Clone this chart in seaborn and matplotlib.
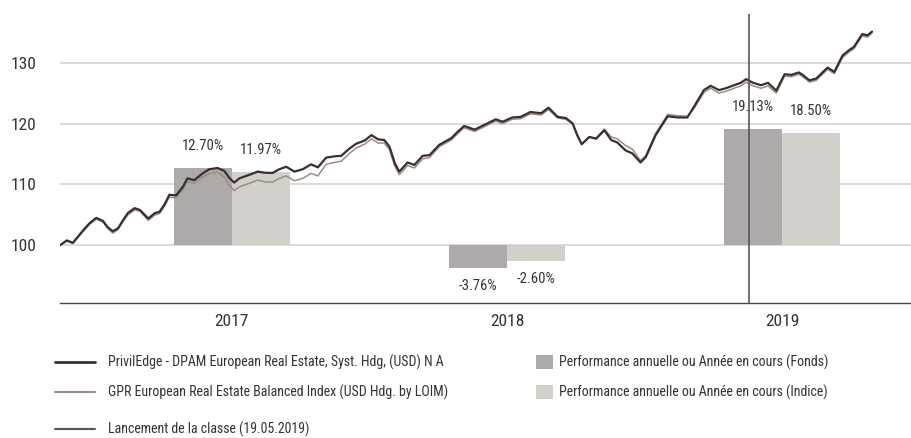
import pandas as pd
import seaborn as sns
import matplotlib.pyplot as plt
import matplotlib.dates as mdates
from matplotlib import font_manager
from matplotlib.lines import Line2D
from matplotlib.patches import Patch

# Données (base 100)
dates = [
    '2016-11-16', '2016-11-25', '2016-12-03', '2016-12-17', '2016-12-25', '2017-01-03',
    '2017-01-12', '2017-01-18', '2017-01-25', '2017-02-01', '2017-02-07', '2017-02-14',
    '2017-02-23', '2017-03-02', '2017-03-13', '2017-03-22', '2017-03-28', '2017-04-04',
    '2017-04-10', '2017-04-19', '2017-04-28', '2017-05-04', '2017-05-13', '2017-05-24',
    '2017-06-02', '2017-06-13', '2017-06-22', '2017-06-29', '2017-07-05', '2017-07-12',
    '2017-07-21', '2017-07-30', '2017-08-05', '2017-08-16', '2017-08-25', '2017-09-03',
    '2017-09-12', '2017-09-23', '2017-10-04', '2017-10-15', '2017-10-24', '2017-11-04',
    '2017-11-14', '2017-11-24', '2017-12-05', '2017-12-14', '2017-12-25', '2018-01-03',
    '2018-01-12', '2018-01-20', '2018-01-27', '2018-02-03', '2018-02-09', '2018-02-20',
    '2018-03-01', '2018-03-12', '2018-03-21', '2018-04-03', '2018-04-19', '2018-04-27',
    '2018-05-06', '2018-05-20', '2018-06-02', '2018-06-17', '2018-06-26', '2018-07-09',
    '2018-07-20', '2018-08-02', '2018-08-16', '2018-08-26', '2018-09-07', '2018-09-18',
    '2018-09-27', '2018-10-03', '2018-10-09', '2018-10-19', '2018-10-28', '2018-11-08',
    '2018-11-17', '2018-11-25', '2018-12-06', '2018-12-15', '2018-12-26', '2019-01-02',
    '2019-01-15', '2019-01-31', '2019-02-13', '2019-02-26', '2019-03-07', '2019-03-20',
    '2019-03-29', '2019-04-09', '2019-04-18', '2019-04-29', '2019-05-08', '2019-05-15',
    '2019-05-24', '2019-06-04', '2019-06-13', '2019-06-24', '2019-07-05', '2019-07-14',
    '2019-07-24', '2019-07-29', '2019-08-07', '2019-08-16', '2019-08-31', '2019-09-09',
    '2019-09-20', '2019-09-29', '2019-10-05', '2019-10-16', '2019-10-23', '2019-10-29',
]
fonds = [
    100.0, 100.8, 100.4, 102.5, 103.6, 104.5, 104.0, 103.0, 102.3, 102.8, 104.0, 105.3,
    106.1, 105.8, 104.4, 105.3, 105.5, 106.8, 108.3, 108.2, 109.6, 111.0, 110.7, 111.8,
    112.5, 112.7, 112.2, 111.0, 110.3, 111.0, 111.4, 111.8, 112.1, 111.9, 111.9, 112.5,
    112.9, 112.1, 112.5, 113.3, 112.8, 114.4, 114.6, 114.7, 115.9, 116.7, 117.2, 118.1,
    117.4, 117.3, 116.2, 113.5, 112.1, 113.6, 113.2, 114.7, 114.8, 116.5, 117.6, 118.6,
    119.6, 119.0, 119.8, 120.7, 120.3, 121.0, 121.1, 121.9, 121.7, 122.6, 121.1, 120.9,
    120.0, 118.1, 116.6, 117.8, 117.5, 118.9, 117.3, 116.9, 115.6, 115.1, 113.6, 114.5,
    118.1, 121.2, 121.0, 121.0, 122.8, 125.5, 126.2, 125.5, 125.8, 126.3, 126.7, 127.3,
    126.7, 126.3, 126.7, 125.4, 128.1, 128.0, 128.4, 128.0, 127.1, 127.4, 129.2, 128.5,
    131.2, 132.1, 132.6, 134.7, 134.5, 135.1,
]
indice = [
    100.0, 100.7, 100.3, 102.3, 103.4, 104.3, 103.8, 102.8, 102.0, 102.6, 103.8, 105.0,
    105.8, 105.6, 104.1, 105.0, 105.2, 106.5, 107.9, 107.8, 109.2, 110.5, 110.2, 111.2,
    111.8, 112.0, 111.2, 109.8, 109.0, 109.6, 110.0, 110.4, 110.7, 110.4, 110.4, 111.0,
    111.4, 110.6, 111.0, 111.8, 111.4, 113.3, 113.6, 113.8, 115.1, 116.0, 116.6, 117.5,
    116.8, 116.8, 115.7, 113.0, 111.6, 113.1, 112.7, 114.2, 114.4, 116.2, 117.3, 118.3,
    119.3, 118.7, 119.5, 120.4, 120.0, 120.7, 120.8, 121.6, 121.4, 122.3, 120.9, 120.7,
    119.9, 118.0, 116.6, 117.8, 117.6, 119.1, 117.8, 117.5, 116.4, 115.8, 113.9, 114.8,
    118.4, 121.5, 121.3, 121.2, 122.5, 125.1, 125.8, 125.0, 125.3, 125.8, 126.2, 126.8,
    126.2, 125.8, 126.2, 125.0, 127.8, 127.7, 128.1, 127.7, 126.8, 127.1, 128.9, 128.2,
    130.9, 131.8, 132.3, 134.4, 134.2, 134.9,
]

annees = [2017, 2018, 2019]
perf_fonds = [12.70, -3.76, 19.13]
perf_indice = [11.97, -2.60, 18.50]
lancement = '2019-05-19'

nom_fonds = 'PrivilEdge - DPAM European Real Estate, Syst. Hdg, (USD) N A'
nom_indice = 'GPR European Real Estate Balanced Index (USD Hdg. by LOIM)'
nom_lancement = 'Lancement de la classe (19.05.2019)'
nom_bar_fonds = 'Performance annuelle ou Année en cours (Fonds)'
nom_bar_indice = 'Performance annuelle ou Année en cours (Indice)'

c_fonds = '#3a2f2f'
c_indice = '#9c8c84'
c_bar_fonds = '#aeaaa9'
c_bar_indice = '#d3cfcb'
c_texte = '#333333'

# police étroite si dispo (le graphique d'origine est en Helvetica Condensed)
dispo = {f.name for f in font_manager.fontManager.ttflist}
choix = ['Roboto Condensed', 'Archivo Narrow', 'PT Sans Narrow', 'Liberation Sans Narrow', 'Liberation Sans']
police = next((p for p in choix if p in dispo), 'DejaVu Sans')
etroite = police != 'Liberation Sans' and police != 'DejaVu Sans'
k = 1.0 if etroite else 0.8

sns.set_style('white')
plt.rcParams['font.family'] = [police, 'DejaVu Sans']

df = pd.DataFrame({'date': pd.to_datetime(dates), 'fonds': fonds, 'indice': indice})

fig = plt.figure(figsize=(9.12, 4.38), dpi=100)
ax = fig.add_axes([0.0658, 0.309, 0.9342, 0.659])

# barres de performance annuelle (base 100)
larg = 77
for a, pf, pi in zip(annees, perf_fonds, perf_indice):
    mid = pd.Timestamp(f'{a}-07-02')
    xf = mid - pd.Timedelta(days=larg / 2)
    xi = mid + pd.Timedelta(days=larg / 2)
    ax.bar(xf, pf, width=larg, bottom=100, color=c_bar_fonds, linewidth=0, zorder=2)
    ax.bar(xi, pi, width=larg, bottom=100, color=c_bar_indice, linewidth=0, zorder=2)
    for x, v in [(xf, pf), (xi, pi)]:
        dy = 22 if v > 0 else -18
        ax.annotate(f'{v:.2f}%', xy=(x, 100 + v), xytext=(0, dy), textcoords='offset pixels',
                    ha='center', va='center', fontsize=10.5 * k, color=c_texte, zorder=5)

sns.lineplot(data=df, x='date', y='indice', color=c_indice, linewidth=1.1, ax=ax, zorder=3)
sns.lineplot(data=df, x='date', y='fonds', color=c_fonds, linewidth=1.6, ax=ax, zorder=4)
ax.axvline(pd.Timestamp(lancement), color='#555555', linewidth=1.2, zorder=6)

ax.set_xlim(pd.Timestamp('2016-11-16'), pd.Timestamp('2019-12-21'))
ax.set_ylim(90.57, 138.0)
ax.set_yticks([100, 110, 120, 130])
ax.yaxis.grid(True, color='#d4d4d4', linewidth=1.2, zorder=0)
ax.set_axisbelow(True)
ax.tick_params(axis='y', length=0, pad=17, labelsize=12.5 * k, labelcolor=c_texte)

ax.xaxis.set_major_locator(mdates.YearLocator())
ax.xaxis.set_major_formatter(plt.NullFormatter())
ax.xaxis.set_minor_locator(mdates.MonthLocator(bymonth=7, bymonthday=2))
ax.xaxis.set_minor_formatter(mdates.DateFormatter('%Y'))
ax.tick_params(axis='x', which='major', length=6, width=1, color='#4a4a3c', direction='out')
ax.tick_params(axis='x', which='minor', length=0, pad=8, labelsize=12.5 * k, labelcolor=c_texte)
ax.set_xlabel('')
ax.set_ylabel('')
for s in ['top', 'left', 'right']:
    ax.spines[s].set_visible(False)
ax.spines['bottom'].set_color('#4a4a3c')
ax.spines['bottom'].set_linewidth(1)

# légendes
prop = {'size': 10 * k}
leg_kw = dict(frameon=False, borderpad=0, borderaxespad=0, prop=prop,
              bbox_transform=fig.transFigure, loc='upper left')
h_lignes = [Line2D([], [], color=c_fonds, linewidth=2), Line2D([], [], color=c_indice, linewidth=1.5)]
l1 = fig.legend(h_lignes, [nom_fonds, nom_indice], bbox_to_anchor=(55 / 912, 1 - 355 / 438),
                handlelength=2.9, handletextpad=0.93, labelspacing=1.05, **leg_kw)
h_bar = [Patch(color=c_bar_fonds, linewidth=0), Patch(color=c_bar_indice, linewidth=0)]
l2 = fig.legend(h_bar, [nom_bar_fonds, nom_bar_indice], bbox_to_anchor=(536 / 912, 1 - 355 / 438),
                handlelength=1.22, handleheight=1.15, handletextpad=0.45, labelspacing=1.05, **leg_kw)
l3 = fig.legend([Line2D([], [], color='#555555', linewidth=1.5)], [nom_lancement],
                bbox_to_anchor=(55 / 912, 1 - 422 / 438), handlelength=2.9, handletextpad=0.93, **leg_kw)
for lg in (l1, l2, l3):
    for t in lg.get_texts():
        t.set_color(c_texte)

fig.savefig('out.png', dpi=100)
